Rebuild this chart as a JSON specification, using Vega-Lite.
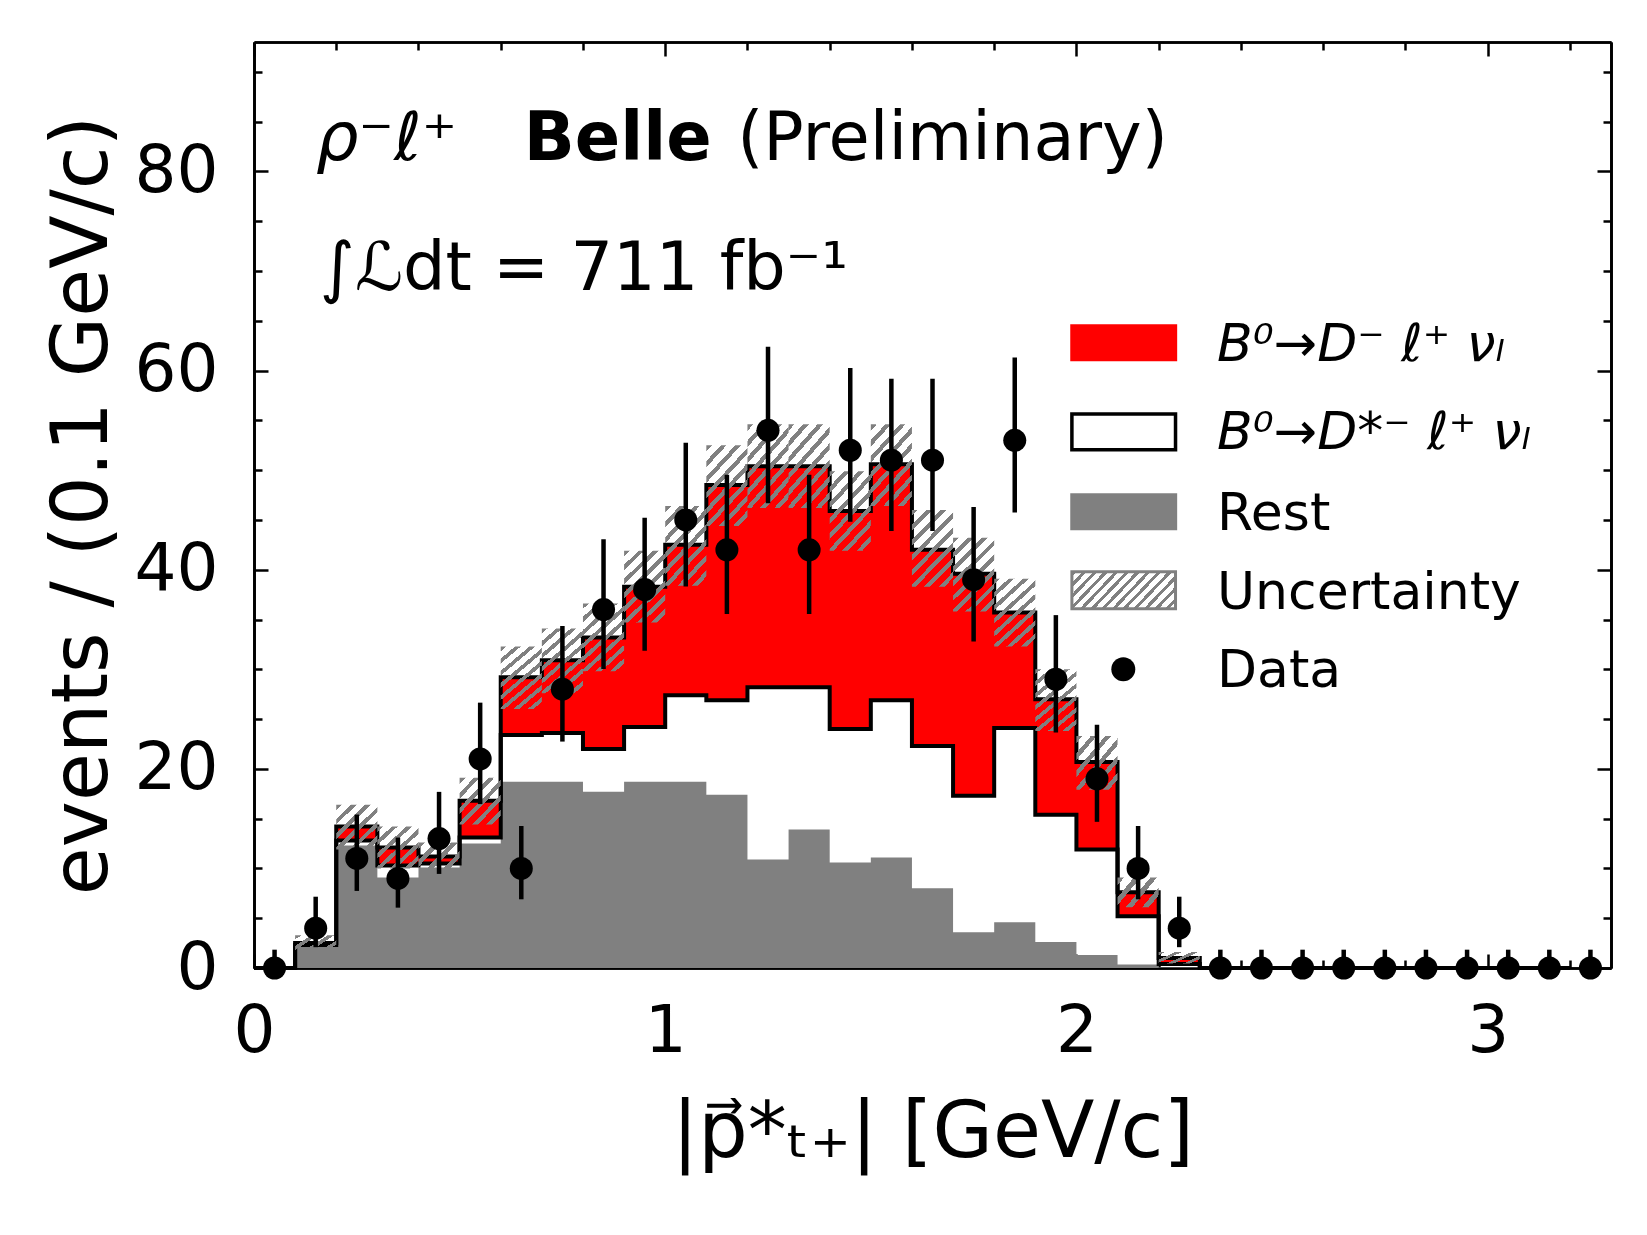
{
  "$schema": "https://vega.github.io/schema/vega-lite/v6.json",
  "width": 1357,
  "height": 926,
  "autosize": {"type": "none"},
  "padding": {"left": 254, "top": 42, "right": 36, "bottom": 267},
  "background": "white",
  "datasets": {
    "bins": [
      {"x0": 0.0, "x1": 0.1, "xc": 0.05, "rest": 0, "dtop": 0, "total": 0, "ulo": 0, "uhi": 0, "n": 0, "lo": 0, "hi": 1.84},
      {"x0": 0.1, "x1": 0.2, "xc": 0.15, "rest": 2.1, "dtop": 2.3, "total": 2.5, "ulo": 1.7, "uhi": 3.3, "n": 4, "lo": 2.09, "hi": 7.16},
      {"x0": 0.2, "x1": 0.3, "xc": 0.25, "rest": 12.3, "dtop": 12.8, "total": 14.2, "ulo": 11.9, "uhi": 16.4, "n": 11, "lo": 7.74, "hi": 15.41},
      {"x0": 0.3, "x1": 0.4, "xc": 0.35, "rest": 9.1, "dtop": 10.3, "total": 12.1, "ulo": 10.0, "uhi": 14.2, "n": 9, "lo": 6.06, "hi": 13.1},
      {"x0": 0.4, "x1": 0.5, "xc": 0.45, "rest": 10.1, "dtop": 10.5, "total": 11.2, "ulo": 10.0, "uhi": 12.6, "n": 13, "lo": 9.45, "hi": 17.69},
      {"x0": 0.5, "x1": 0.6, "xc": 0.55, "rest": 12.5, "dtop": 13.1, "total": 16.8, "ulo": 14.4, "uhi": 19.1, "n": 21, "lo": 16.46, "hi": 26.65},
      {"x0": 0.6, "x1": 0.7, "xc": 0.65, "rest": 18.7, "dtop": 23.4, "total": 29.2, "ulo": 26.0, "uhi": 32.3, "n": 10, "lo": 6.9, "hi": 14.26},
      {"x0": 0.7, "x1": 0.8, "xc": 0.75, "rest": 18.7, "dtop": 23.6, "total": 30.9, "ulo": 27.6, "uhi": 34.1, "n": 28, "lo": 22.74, "hi": 34.35},
      {"x0": 0.8, "x1": 0.9, "xc": 0.85, "rest": 17.7, "dtop": 22.0, "total": 33.2, "ulo": 29.8, "uhi": 36.6, "n": 36, "lo": 30.03, "hi": 43.05},
      {"x0": 0.9, "x1": 1.0, "xc": 0.95, "rest": 18.7, "dtop": 24.2, "total": 38.3, "ulo": 34.7, "uhi": 41.9, "n": 38, "lo": 31.87, "hi": 45.22},
      {"x0": 1.0, "x1": 1.1, "xc": 1.05, "rest": 18.7, "dtop": 27.4, "total": 42.5, "ulo": 38.4, "uhi": 46.4, "n": 45, "lo": 38.32, "hi": 52.76},
      {"x0": 1.1, "x1": 1.2, "xc": 1.15, "rest": 17.4, "dtop": 26.9, "total": 48.5, "ulo": 44.4, "uhi": 52.5, "n": 42, "lo": 35.55, "hi": 49.53},
      {"x0": 1.2, "x1": 1.3, "xc": 1.25, "rest": 10.9, "dtop": 28.2, "total": 50.4, "ulo": 46.2, "uhi": 54.6, "n": 54, "lo": 46.68, "hi": 62.39},
      {"x0": 1.3, "x1": 1.4, "xc": 1.35, "rest": 13.9, "dtop": 28.2, "total": 50.4, "ulo": 46.2, "uhi": 54.6, "n": 42, "lo": 35.55, "hi": 49.53},
      {"x0": 1.4, "x1": 1.5, "xc": 1.45, "rest": 10.6, "dtop": 24.0, "total": 45.9, "ulo": 41.9, "uhi": 49.9, "n": 52, "lo": 44.82, "hi": 60.26},
      {"x0": 1.5, "x1": 1.6, "xc": 1.55, "rest": 11.1, "dtop": 26.9, "total": 50.6, "ulo": 46.4, "uhi": 54.6, "n": 51, "lo": 43.88, "hi": 59.19},
      {"x0": 1.6, "x1": 1.7, "xc": 1.65, "rest": 8.0, "dtop": 22.3, "total": 42.0, "ulo": 38.3, "uhi": 46.0, "n": 51, "lo": 43.88, "hi": 59.19},
      {"x0": 1.7, "x1": 1.8, "xc": 1.75, "rest": 3.6, "dtop": 17.3, "total": 39.6, "ulo": 35.8, "uhi": 43.2, "n": 39, "lo": 32.78, "hi": 46.3},
      {"x0": 1.8, "x1": 1.9, "xc": 1.85, "rest": 4.6, "dtop": 24.1, "total": 35.7, "ulo": 32.3, "uhi": 39.1, "n": 53, "lo": 45.75, "hi": 61.32},
      {"x0": 1.9, "x1": 2.0, "xc": 1.95, "rest": 2.6, "dtop": 15.4, "total": 27.0, "ulo": 23.8, "uhi": 30.0, "n": 29, "lo": 23.65, "hi": 35.44},
      {"x0": 2.0, "x1": 2.1, "xc": 2.05, "rest": 1.3, "dtop": 11.9, "total": 20.7, "ulo": 17.9, "uhi": 23.3, "n": 19, "lo": 14.68, "hi": 24.43},
      {"x0": 2.1, "x1": 2.2, "xc": 2.15, "rest": 0.35, "dtop": 5.2, "total": 7.6, "ulo": 6.1, "uhi": 9.1, "n": 10, "lo": 6.9, "hi": 14.26},
      {"x0": 2.2, "x1": 2.3, "xc": 2.25, "rest": 0.05, "dtop": 0.4, "total": 1.0, "ulo": 0.45, "uhi": 1.6, "n": 4, "lo": 2.09, "hi": 7.16},
      {"x0": 2.3, "x1": 2.4, "xc": 2.35, "rest": 0, "dtop": 0, "total": 0, "ulo": 0, "uhi": 0, "n": 0, "lo": 0, "hi": 1.84},
      {"x0": 2.4, "x1": 2.5, "xc": 2.45, "rest": 0, "dtop": 0, "total": 0, "ulo": 0, "uhi": 0, "n": 0, "lo": 0, "hi": 1.84},
      {"x0": 2.5, "x1": 2.6, "xc": 2.55, "rest": 0, "dtop": 0, "total": 0, "ulo": 0, "uhi": 0, "n": 0, "lo": 0, "hi": 1.84},
      {"x0": 2.6, "x1": 2.7, "xc": 2.65, "rest": 0, "dtop": 0, "total": 0, "ulo": 0, "uhi": 0, "n": 0, "lo": 0, "hi": 1.84},
      {"x0": 2.7, "x1": 2.8, "xc": 2.75, "rest": 0, "dtop": 0, "total": 0, "ulo": 0, "uhi": 0, "n": 0, "lo": 0, "hi": 1.84},
      {"x0": 2.8, "x1": 2.9, "xc": 2.85, "rest": 0, "dtop": 0, "total": 0, "ulo": 0, "uhi": 0, "n": 0, "lo": 0, "hi": 1.84},
      {"x0": 2.9, "x1": 3.0, "xc": 2.95, "rest": 0, "dtop": 0, "total": 0, "ulo": 0, "uhi": 0, "n": 0, "lo": 0, "hi": 1.84},
      {"x0": 3.0, "x1": 3.1, "xc": 3.05, "rest": 0, "dtop": 0, "total": 0, "ulo": 0, "uhi": 0, "n": 0, "lo": 0, "hi": 1.84},
      {"x0": 3.1, "x1": 3.2, "xc": 3.15, "rest": 0, "dtop": 0, "total": 0, "ulo": 0, "uhi": 0, "n": 0, "lo": 0, "hi": 1.84},
      {"x0": 3.2, "x1": 3.3, "xc": 3.25, "rest": 0, "dtop": 0, "total": 0, "ulo": 0, "uhi": 0, "n": 0, "lo": 0, "hi": 1.84}
    ]
  },
  "resolve": {"axis": {"x": "independent", "y": "independent"}},
  "layer": [
    {
      "data": {"name": "bins"},
      "mark": {"type": "area", "interpolate": "step-after", "color": "#808080", "opacity": 1},
      "encoding": {
        "x": {
          "field": "x0", "type": "quantitative",
          "scale": {"domain": [0, 3.3], "nice": false, "zero": false},
          "axis": {"orient": "bottom", "values": [0, 1, 2, 3], "format": "d", "labelFlush": false, "tickSize": -14, "labelPadding": 45, "title": "|p⃗*ₜ₊| [GeV/c]", "titlePadding": 30}
        },
        "y": {
          "field": "rest", "type": "quantitative",
          "scale": {"domain": [0, 93], "nice": false},
          "axis": {"orient": "left", "values": [0, 20, 40, 60, 80], "format": "d", "labelFlush": false, "tickSize": -14, "labelPadding": 50, "title": "events / (0.1 GeV/c)", "titlePadding": 12}
        },
        "y2": {"datum": 0}
      }
    },
    {
      "data": {"name": "bins"},
      "mark": {"type": "area", "interpolate": "step-after", "color": "#ff0000", "opacity": 1},
      "encoding": {
        "x": {"field": "x0", "type": "quantitative", "axis": null},
        "y": {"field": "total", "type": "quantitative", "axis": null},
        "y2": {"field": "dtop"}
      }
    },
    {
      "data": {"name": "bins"},
      "mark": {"type": "line", "interpolate": "step-after", "color": "black", "strokeWidth": 4},
      "encoding": {
        "x": {"field": "x0", "type": "quantitative", "axis": null},
        "y": {"field": "dtop", "type": "quantitative", "axis": null}
      }
    },
    {
      "data": {"name": "bins"},
      "mark": {"type": "line", "interpolate": "step-after", "color": "black", "strokeWidth": 4},
      "encoding": {
        "x": {"field": "x0", "type": "quantitative", "axis": null},
        "y": {"field": "total", "type": "quantitative", "axis": null}
      }
    },
    {
      "data": {"name": "bins"},
      "transform": [{"filter": "datum.uhi - datum.ulo >= 6"}],
      "mark": {
        "type": "rect", "strokeWidth": 0, "opacity": 1,
        "fill": {
          "gradient": "linear", "x1": 0, "y1": 0, "x2": 0.66, "y2": 1.19,
          "stops": [
            {"offset": 0, "color": "#808080"}, {"offset": 0.05, "color": "#808080"}, {"offset": 0.05, "color": "rgba(128,128,128,0)"}, {"offset": 0.125, "color": "rgba(128,128,128,0)"},
            {"offset": 0.125, "color": "#808080"}, {"offset": 0.175, "color": "#808080"}, {"offset": 0.175, "color": "rgba(128,128,128,0)"}, {"offset": 0.25, "color": "rgba(128,128,128,0)"},
            {"offset": 0.25, "color": "#808080"}, {"offset": 0.3, "color": "#808080"}, {"offset": 0.3, "color": "rgba(128,128,128,0)"}, {"offset": 0.375, "color": "rgba(128,128,128,0)"},
            {"offset": 0.375, "color": "#808080"}, {"offset": 0.425, "color": "#808080"}, {"offset": 0.425, "color": "rgba(128,128,128,0)"}, {"offset": 0.5, "color": "rgba(128,128,128,0)"},
            {"offset": 0.5, "color": "#808080"}, {"offset": 0.55, "color": "#808080"}, {"offset": 0.55, "color": "rgba(128,128,128,0)"}, {"offset": 0.625, "color": "rgba(128,128,128,0)"},
            {"offset": 0.625, "color": "#808080"}, {"offset": 0.675, "color": "#808080"}, {"offset": 0.675, "color": "rgba(128,128,128,0)"}, {"offset": 0.75, "color": "rgba(128,128,128,0)"},
            {"offset": 0.75, "color": "#808080"}, {"offset": 0.8, "color": "#808080"}, {"offset": 0.8, "color": "rgba(128,128,128,0)"}, {"offset": 0.875, "color": "rgba(128,128,128,0)"},
            {"offset": 0.875, "color": "#808080"}, {"offset": 0.925, "color": "#808080"}, {"offset": 0.925, "color": "rgba(128,128,128,0)"}, {"offset": 1, "color": "rgba(128,128,128,0)"}
          ]
        }
      },
      "encoding": {
        "x": {"field": "x0", "type": "quantitative", "axis": null},
        "x2": {"field": "x1"},
        "y": {"field": "ulo", "type": "quantitative", "axis": null},
        "y2": {"field": "uhi"}
      }
    },
    {
      "data": {"name": "bins"},
      "transform": [{"filter": "datum.uhi - datum.ulo >= 3.2 && datum.uhi - datum.ulo < 6"}],
      "mark": {
        "type": "rect", "strokeWidth": 0, "opacity": 1,
        "fill": {
          "gradient": "linear", "x1": 0, "y1": 0, "x2": 0.95, "y2": 1.045,
          "stops": [
            {"offset": 0, "color": "#808080"}, {"offset": 0.0667, "color": "#808080"}, {"offset": 0.0667, "color": "rgba(128,128,128,0)"}, {"offset": 0.1667, "color": "rgba(128,128,128,0)"},
            {"offset": 0.1667, "color": "#808080"}, {"offset": 0.2333, "color": "#808080"}, {"offset": 0.2333, "color": "rgba(128,128,128,0)"}, {"offset": 0.3333, "color": "rgba(128,128,128,0)"},
            {"offset": 0.3333, "color": "#808080"}, {"offset": 0.4, "color": "#808080"}, {"offset": 0.4, "color": "rgba(128,128,128,0)"}, {"offset": 0.5, "color": "rgba(128,128,128,0)"},
            {"offset": 0.5, "color": "#808080"}, {"offset": 0.5667, "color": "#808080"}, {"offset": 0.5667, "color": "rgba(128,128,128,0)"}, {"offset": 0.6667, "color": "rgba(128,128,128,0)"},
            {"offset": 0.6667, "color": "#808080"}, {"offset": 0.7333, "color": "#808080"}, {"offset": 0.7333, "color": "rgba(128,128,128,0)"}, {"offset": 0.8333, "color": "rgba(128,128,128,0)"},
            {"offset": 0.8333, "color": "#808080"}, {"offset": 0.9, "color": "#808080"}, {"offset": 0.9, "color": "rgba(128,128,128,0)"}, {"offset": 1, "color": "rgba(128,128,128,0)"}
          ]
        }
      },
      "encoding": {
        "x": {"field": "x0", "type": "quantitative", "axis": null},
        "x2": {"field": "x1"},
        "y": {"field": "ulo", "type": "quantitative", "axis": null},
        "y2": {"field": "uhi"}
      }
    },
    {
      "data": {"name": "bins"},
      "transform": [{"filter": "datum.uhi - datum.ulo > 0 && datum.uhi - datum.ulo < 3.2"}],
      "mark": {
        "type": "rect", "strokeWidth": 0, "opacity": 1,
        "fill": {
          "gradient": "linear", "x1": 0, "y1": 0, "x2": 1.176, "y2": 0.706,
          "stops": [
            {"offset": 0, "color": "#808080"}, {"offset": 0.1, "color": "#808080"}, {"offset": 0.1, "color": "rgba(128,128,128,0)"}, {"offset": 0.25, "color": "rgba(128,128,128,0)"},
            {"offset": 0.25, "color": "#808080"}, {"offset": 0.35, "color": "#808080"}, {"offset": 0.35, "color": "rgba(128,128,128,0)"}, {"offset": 0.5, "color": "rgba(128,128,128,0)"},
            {"offset": 0.5, "color": "#808080"}, {"offset": 0.6, "color": "#808080"}, {"offset": 0.6, "color": "rgba(128,128,128,0)"}, {"offset": 0.75, "color": "rgba(128,128,128,0)"},
            {"offset": 0.75, "color": "#808080"}, {"offset": 0.85, "color": "#808080"}, {"offset": 0.85, "color": "rgba(128,128,128,0)"}, {"offset": 1, "color": "rgba(128,128,128,0)"}
          ]
        }
      },
      "encoding": {
        "x": {"field": "x0", "type": "quantitative", "axis": null},
        "x2": {"field": "x1"},
        "y": {"field": "ulo", "type": "quantitative", "axis": null},
        "y2": {"field": "uhi"}
      }
    },
    {
      "data": {"name": "bins"},
      "mark": {"type": "rule", "color": "black", "strokeWidth": 4.5},
      "encoding": {
        "x": {"field": "xc", "type": "quantitative", "axis": null},
        "y": {"field": "lo", "type": "quantitative", "axis": null},
        "y2": {"field": "hi"}
      }
    },
    {
      "data": {"name": "bins"},
      "mark": {"type": "point", "shape": "circle", "filled": true, "color": "black", "size": 530, "opacity": 1},
      "encoding": {
        "x": {"field": "xc", "type": "quantitative", "axis": null},
        "y": {"field": "n", "type": "quantitative", "axis": null}
      }
    },
    {
      "data": {"name": "bins"},
      "mark": {"type": "point", "opacity": 0},
      "encoding": {
        "x": {"field": "xc", "type": "quantitative", "axis": {"orient": "bottom", "values": [0.2, 0.4, 0.6, 0.8, 1.2, 1.4, 1.6, 1.8, 2.2, 2.4, 2.6, 2.8, 3.2], "tickSize": -8, "labels": false, "title": null}},
        "y": {"field": "n", "type": "quantitative", "axis": {"orient": "left", "values": [5, 10, 15, 25, 30, 35, 45, 50, 55, 65, 70, 75, 85, 90], "tickSize": -8, "labels": false, "title": null}}
      }
    },
    {
      "data": {"name": "bins"},
      "mark": {"type": "point", "opacity": 0},
      "encoding": {
        "x": {"field": "xc", "type": "quantitative", "axis": {"orient": "top", "values": [0, 1, 2, 3], "tickSize": -14, "labels": false, "title": null}},
        "y": {"field": "n", "type": "quantitative", "axis": {"orient": "right", "values": [0, 20, 40, 60, 80], "tickSize": -14, "labels": false, "title": null}}
      }
    },
    {
      "data": {"name": "bins"},
      "mark": {"type": "point", "opacity": 0},
      "encoding": {
        "x": {"field": "xc", "type": "quantitative", "axis": {"orient": "top", "values": [0.2, 0.4, 0.6, 0.8, 1.2, 1.4, 1.6, 1.8, 2.2, 2.4, 2.6, 2.8, 3.2], "tickSize": -8, "labels": false, "title": null}},
        "y": {"field": "n", "type": "quantitative", "axis": {"orient": "right", "values": [5, 10, 15, 25, 30, 35, 45, 50, 55, 65, 70, 75, 85, 90], "tickSize": -8, "labels": false, "title": null}}
      }
    },
    {
      "data": {"values": [{}]},
      "mark": {"type": "text", "text": "ρ⁻ℓ⁺", "fontSize": 67, "fontStyle": "italic", "align": "left", "baseline": "alphabetic", "color": "black"},
      "encoding": {
        "x": {"datum": 0.151, "type": "quantitative", "axis": null},
        "y": {"datum": 81.1, "type": "quantitative", "axis": null}
      }
    },
    {
      "data": {"values": [{}]},
      "mark": {"type": "text", "text": "Belle", "fontSize": 67, "fontWeight": "bold", "align": "left", "baseline": "alphabetic", "color": "black"},
      "encoding": {
        "x": {"datum": 0.656, "type": "quantitative", "axis": null},
        "y": {"datum": 81.1, "type": "quantitative", "axis": null}
      }
    },
    {
      "data": {"values": [{}]},
      "mark": {"type": "text", "text": "(Preliminary)", "fontSize": 67, "align": "left", "baseline": "alphabetic", "color": "black"},
      "encoding": {
        "x": {"datum": 1.175, "type": "quantitative", "axis": null},
        "y": {"datum": 81.1, "type": "quantitative", "axis": null}
      }
    },
    {
      "data": {"values": [{}]},
      "mark": {"type": "text", "text": "∫ℒdt = 711 fb⁻¹", "fontSize": 67, "align": "left", "baseline": "alphabetic", "color": "black"},
      "encoding": {
        "x": {"datum": 0.16, "type": "quantitative", "axis": null},
        "y": {"datum": 68.1, "type": "quantitative", "axis": null}
      }
    },
    {
      "data": {"values": [{}]},
      "mark": {"type": "rect", "color": "#ff0000", "opacity": 1},
      "encoding": {
        "x": {"datum": 1.985, "type": "quantitative", "axis": null},
        "x2": {"datum": 2.245},
        "y": {"datum": 60.93, "type": "quantitative", "axis": null},
        "y2": {"datum": 64.65}
      }
    },
    {
      "data": {"values": [{}]},
      "mark": {"type": "rect", "fill": "#ffffff", "stroke": "#000000", "strokeWidth": 3.5, "opacity": 1},
      "encoding": {
        "x": {"datum": 1.989, "type": "quantitative", "axis": null},
        "x2": {"datum": 2.241},
        "y": {"datum": 52.06, "type": "quantitative", "axis": null},
        "y2": {"datum": 55.64}
      }
    },
    {
      "data": {"values": [{}]},
      "mark": {"type": "rect", "color": "#808080", "opacity": 1},
      "encoding": {
        "x": {"datum": 1.985, "type": "quantitative", "axis": null},
        "x2": {"datum": 2.245},
        "y": {"datum": 43.96, "type": "quantitative", "axis": null},
        "y2": {"datum": 47.68}
      }
    },
    {
      "data": {"values": [{}]},
      "mark": {
        "type": "rect", "stroke": "#808080", "strokeWidth": 3, "opacity": 1,
        "fill": {
          "gradient": "linear", "x1": 0, "y1": 0, "x2": 1.201, "y2": 0.408,
          "stops": [
            {"offset": 0, "color": "#808080"}, {"offset": 0.031, "color": "#808080"}, {"offset": 0.031, "color": "#ffffff"}, {"offset": 0.0769, "color": "#ffffff"},
            {"offset": 0.0769, "color": "#808080"}, {"offset": 0.108, "color": "#808080"}, {"offset": 0.108, "color": "#ffffff"}, {"offset": 0.1538, "color": "#ffffff"},
            {"offset": 0.1538, "color": "#808080"}, {"offset": 0.185, "color": "#808080"}, {"offset": 0.185, "color": "#ffffff"}, {"offset": 0.2308, "color": "#ffffff"},
            {"offset": 0.2308, "color": "#808080"}, {"offset": 0.262, "color": "#808080"}, {"offset": 0.262, "color": "#ffffff"}, {"offset": 0.3077, "color": "#ffffff"},
            {"offset": 0.3077, "color": "#808080"}, {"offset": 0.339, "color": "#808080"}, {"offset": 0.339, "color": "#ffffff"}, {"offset": 0.3846, "color": "#ffffff"},
            {"offset": 0.3846, "color": "#808080"}, {"offset": 0.416, "color": "#808080"}, {"offset": 0.416, "color": "#ffffff"}, {"offset": 0.4615, "color": "#ffffff"},
            {"offset": 0.4615, "color": "#808080"}, {"offset": 0.493, "color": "#808080"}, {"offset": 0.493, "color": "#ffffff"}, {"offset": 0.5385, "color": "#ffffff"},
            {"offset": 0.5385, "color": "#808080"}, {"offset": 0.569, "color": "#808080"}, {"offset": 0.569, "color": "#ffffff"}, {"offset": 0.6154, "color": "#ffffff"},
            {"offset": 0.6154, "color": "#808080"}, {"offset": 0.646, "color": "#808080"}, {"offset": 0.646, "color": "#ffffff"}, {"offset": 0.6923, "color": "#ffffff"},
            {"offset": 0.6923, "color": "#808080"}, {"offset": 0.723, "color": "#808080"}, {"offset": 0.723, "color": "#ffffff"}, {"offset": 0.7692, "color": "#ffffff"},
            {"offset": 0.7692, "color": "#808080"}, {"offset": 0.8, "color": "#808080"}, {"offset": 0.8, "color": "#ffffff"}, {"offset": 0.8462, "color": "#ffffff"},
            {"offset": 0.8462, "color": "#808080"}, {"offset": 0.877, "color": "#808080"}, {"offset": 0.877, "color": "#ffffff"}, {"offset": 0.9231, "color": "#ffffff"},
            {"offset": 0.9231, "color": "#808080"}, {"offset": 0.954, "color": "#808080"}, {"offset": 0.954, "color": "#ffffff"}, {"offset": 1, "color": "#ffffff"}
          ]
        }
      },
      "encoding": {
        "x": {"datum": 1.989, "type": "quantitative", "axis": null},
        "x2": {"datum": 2.241},
        "y": {"datum": 36.08, "type": "quantitative", "axis": null},
        "y2": {"datum": 39.79}
      }
    },
    {
      "data": {"values": [{}]},
      "mark": {"type": "point", "shape": "circle", "filled": true, "color": "black", "size": 573, "opacity": 1},
      "encoding": {
        "x": {"datum": 2.114, "type": "quantitative", "axis": null},
        "y": {"datum": 30.0, "type": "quantitative", "axis": null}
      }
    },
    {
      "data": {"values": [{}]},
      "mark": {"type": "text", "text": "B⁰→D⁻ ℓ⁺ νₗ", "fontSize": 52, "fontStyle": "italic", "align": "left", "baseline": "alphabetic", "color": "black"},
      "encoding": {
        "x": {"datum": 2.342, "type": "quantitative", "axis": null},
        "y": {"datum": 60.96, "type": "quantitative", "axis": null}
      }
    },
    {
      "data": {"values": [{}]},
      "mark": {"type": "text", "text": "B⁰→D*⁻ ℓ⁺ νₗ", "fontSize": 52, "fontStyle": "italic", "align": "left", "baseline": "alphabetic", "color": "black"},
      "encoding": {
        "x": {"datum": 2.342, "type": "quantitative", "axis": null},
        "y": {"datum": 52.16, "type": "quantitative", "axis": null}
      }
    },
    {
      "data": {"values": [{}]},
      "mark": {"type": "text", "text": "Rest", "fontSize": 52, "align": "left", "baseline": "alphabetic", "color": "black"},
      "encoding": {
        "x": {"datum": 2.342, "type": "quantitative", "axis": null},
        "y": {"datum": 43.96, "type": "quantitative", "axis": null}
      }
    },
    {
      "data": {"values": [{}]},
      "mark": {"type": "text", "text": "Uncertainty", "fontSize": 52, "align": "left", "baseline": "alphabetic", "color": "black"},
      "encoding": {
        "x": {"datum": 2.342, "type": "quantitative", "axis": null},
        "y": {"datum": 36.09, "type": "quantitative", "axis": null}
      }
    },
    {
      "data": {"values": [{}]},
      "mark": {"type": "text", "text": "Data", "fontSize": 52, "align": "left", "baseline": "alphabetic", "color": "black"},
      "encoding": {
        "x": {"datum": 2.342, "type": "quantitative", "axis": null},
        "y": {"datum": 28.22, "type": "quantitative", "axis": null}
      }
    }
  ],
  "config": {
    "font": "DejaVu Sans",
    "view": {"stroke": null},
    "axis": {
      "grid": false,
      "domainColor": "black",
      "domainWidth": 2.7,
      "tickColor": "black",
      "tickWidth": 2.5,
      "labelFont": "DejaVu Sans",
      "labelFontSize": 66,
      "labelColor": "black",
      "titleFont": "DejaVu Sans",
      "titleFontSize": 78,
      "titleFontWeight": "normal",
      "titleColor": "black"
    }
  }
}
